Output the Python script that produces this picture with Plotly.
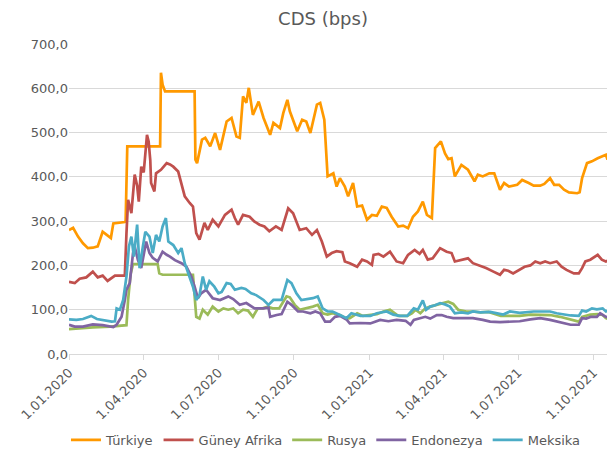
import plotly.graph_objects as go

# ---------------- data ----------------
tr_dates = ["2020-01-01","2020-01-06","2020-01-12","2020-01-18","2020-01-24","2020-01-30","2020-02-05","2020-02-11",
            "2020-02-16","2020-02-21","2020-02-24","2020-03-09","2020-03-10","2020-03-11","2020-03-12","2020-04-21",
            "2020-04-22","2020-04-24","2020-04-27","2020-06-02","2020-06-03","2020-06-05","2020-06-11","2020-06-15",
            "2020-06-21","2020-06-27","2020-07-03","2020-07-11","2020-07-17","2020-07-23","2020-07-27","2020-07-31",
            "2020-08-04","2020-08-07","2020-08-12","2020-08-19","2020-08-25","2020-09-02","2020-09-06","2020-09-14",
            "2020-09-18","2020-09-23","2020-09-26","2020-10-05","2020-10-11","2020-10-16","2020-10-21","2020-10-29",
            "2020-11-02","2020-11-07","2020-11-11","2020-11-18","2020-11-22","2020-11-26","2020-12-02","2020-12-06",
            "2020-12-12","2020-12-17","2020-12-23","2020-12-29","2021-01-04","2021-01-10","2021-01-16","2021-01-22",
            "2021-01-28","2021-02-05","2021-02-11","2021-02-17","2021-02-23","2021-03-01","2021-03-07","2021-03-12",
            "2021-03-18","2021-03-22","2021-03-29","2021-04-03","2021-04-07","2021-04-11","2021-04-15","2021-04-23",
            "2021-05-01","2021-05-09","2021-05-13","2021-05-19","2021-05-27","2021-06-02","2021-06-09","2021-06-14",
            "2021-06-20","2021-06-30","2021-07-06","2021-07-14","2021-07-20","2021-07-28","2021-08-02","2021-08-09",
            "2021-08-14","2021-08-20","2021-08-26","2021-09-01","2021-09-11","2021-09-14","2021-09-17","2021-09-23",
            "2021-09-29","2021-10-06","2021-10-12","2021-10-16","2021-10-18","2021-10-21"]
tr_vals = [280,285,265,250,239,240,243,276,269,262,295,298,300,431,469,469,
           635,608,593,593,439,431,484,488,469,499,461,525,533,491,488,582,
           567,601,540,570,533,495,522,510,544,574,548,503,529,525,499,563,
           567,529,401,408,378,397,378,356,386,333,335,303,314,312,333,330,
           310,288,290,284,310,322,344,314,307,465,480,453,440,442,401,427,
           416,390,405,401,408,408,371,386,378,382,393,386,380,380,384,397,
           382,382,371,365,363,365,397,431,435,442,446,450,439,465]

za_dates = ["2020-01-01","2020-01-08","2020-01-14","2020-01-22","2020-01-30","2020-02-05","2020-02-11","2020-02-17",
            "2020-02-26","2020-03-09","2020-03-11","2020-03-13","2020-03-17","2020-03-21","2020-03-24","2020-03-26",
            "2020-03-29","2020-04-01","2020-04-05","2020-04-07","2020-04-09","2020-04-10","2020-04-14","2020-04-16",
            "2020-04-22","2020-04-29","2020-05-03","2020-05-07","2020-05-13","2020-05-17","2020-05-21","2020-05-27",
            "2020-05-31","2020-06-04","2020-06-08","2020-06-14","2020-06-18","2020-06-24","2020-07-01","2020-07-09",
            "2020-07-17","2020-07-21","2020-07-25","2020-07-31","2020-08-08","2020-08-14","2020-08-20","2020-08-26",
            "2020-09-01","2020-09-09","2020-09-16","2020-09-24","2020-09-30","2020-10-08","2020-10-16","2020-10-23",
            "2020-10-29","2020-11-04","2020-11-10","2020-11-16","2020-11-22","2020-11-29","2020-12-02","2020-12-08",
            "2020-12-17","2020-12-23","2020-12-29","2021-01-04","2021-01-06","2021-01-12","2021-01-18","2021-01-26",
            "2021-02-03","2021-02-11","2021-02-17","2021-02-25","2021-03-03","2021-03-07","2021-03-13","2021-03-19",
            "2021-03-28","2021-04-05","2021-04-11","2021-04-15","2021-04-23","2021-05-01","2021-05-07","2021-05-13",
            "2021-05-23","2021-06-01","2021-06-09","2021-06-14","2021-06-19","2021-06-25","2021-07-03","2021-07-09",
            "2021-07-16","2021-07-22","2021-07-28","2021-08-03","2021-08-09","2021-08-17","2021-08-23","2021-08-29",
            "2021-09-07","2021-09-13","2021-09-17","2021-09-21","2021-09-27","2021-10-06","2021-10-11","2021-10-16",
            "2021-10-21"]
za_vals = [163,160,170,173,186,173,177,165,177,177,273,348,318,405,380,344,
           423,410,495,480,438,386,367,408,416,431,428,423,412,386,356,341,
           333,273,258,296,280,303,288,314,326,307,292,314,310,299,292,288,
           277,288,280,329,318,280,284,269,280,254,220,228,232,230,209,205,
           197,213,209,201,224,226,220,231,209,205,224,235,226,235,213,216,
           239,231,228,209,213,216,205,201,194,186,179,190,188,182,190,197,
           200,209,205,209,205,209,197,190,182,182,194,209,213,224,213,209,
           213]

ru_dates = ["2020-01-01","2020-01-14","2020-01-30","2020-02-20","2020-02-26","2020-03-11","2020-03-13","2020-03-16",
            "2020-03-19","2020-04-18","2020-04-20","2020-04-24","2020-05-31","2020-06-04","2020-06-08","2020-06-12",
            "2020-06-18","2020-06-24","2020-07-01","2020-07-07","2020-07-13","2020-07-19","2020-07-25","2020-07-31",
            "2020-08-06","2020-08-12","2020-08-18","2020-08-24","2020-08-30","2020-09-05","2020-09-13","2020-09-22",
            "2020-09-26","2020-10-02","2020-10-08","2020-10-16","2020-10-24","2020-10-30","2020-11-05","2020-11-11",
            "2020-11-17","2020-11-26","2020-12-04","2020-12-08","2020-12-17","2020-12-24","2021-01-02","2021-01-10",
            "2021-01-18","2021-01-26","2021-02-05","2021-02-16","2021-02-22","2021-02-26","2021-03-04","2021-03-10",
            "2021-03-16","2021-03-24","2021-03-30","2021-04-07","2021-04-13","2021-04-19","2021-04-29","2021-05-07",
            "2021-05-16","2021-05-26","2021-06-10","2021-07-03","2021-07-16","2021-07-28","2021-08-09","2021-08-21",
            "2021-09-03","2021-09-13","2021-09-17","2021-09-27","2021-10-06","2021-10-12","2021-10-16","2021-10-21"]
ru_vals = [56,58,60,62,63,65,122,180,203,203,182,179,179,84,80,100,
           89,107,96,103,100,103,92,100,98,84,103,103,107,103,103,130,
           128,111,100,103,107,111,92,89,92,88,80,81,92,86,88,90,
           96,100,86,86,92,100,92,103,107,111,115,118,113,100,96,96,
           94,95,86,86,89,89,88,84,77,73,84,89,90,88,81,77]

id_dates = ["2020-01-01","2020-01-08","2020-01-18","2020-01-30","2020-02-11","2020-02-24","2020-02-28","2020-03-05",
            "2020-03-09","2020-03-11","2020-03-15","2020-03-19","2020-03-21","2020-03-25","2020-03-29","2020-04-04",
            "2020-04-08","2020-04-12","2020-04-18","2020-04-24","2020-04-29","2020-05-03","2020-05-09","2020-05-17",
            "2020-05-23","2020-05-29","2020-06-02","2020-06-06","2020-06-10","2020-06-16","2020-06-24","2020-07-03",
            "2020-07-13","2020-07-19","2020-07-27","2020-08-04","2020-08-14","2020-08-25","2020-08-31","2020-09-02",
            "2020-09-10","2020-09-16","2020-09-23","2020-09-28","2020-10-06","2020-10-12","2020-10-21","2020-10-27",
            "2020-11-02","2020-11-08","2020-11-14","2020-11-20","2020-11-26","2020-12-04","2020-12-08","2020-12-21",
            "2021-01-02","2021-01-14","2021-01-24","2021-02-03","2021-02-14","2021-02-20","2021-02-24","2021-03-04",
            "2021-03-10","2021-03-16","2021-03-24","2021-03-30","2021-04-05","2021-04-13","2021-04-25","2021-05-07",
            "2021-05-19","2021-05-28","2021-06-09","2021-06-21","2021-07-03","2021-07-16","2021-07-28","2021-08-09",
            "2021-08-21","2021-09-03","2021-09-13","2021-09-17","2021-09-22","2021-09-28","2021-10-05","2021-10-09",
            "2021-10-16","2021-10-21"]
id_vals = [66,62,62,67,65,61,66,84,122,145,160,228,243,212,194,254,
           228,217,209,231,224,220,212,205,197,175,152,126,137,145,126,122,
           130,124,111,115,103,103,105,84,88,90,118,111,96,96,92,96,
           92,73,73,84,86,78,69,70,69,77,74,77,75,66,77,81,
           84,80,88,88,84,81,81,81,77,73,72,73,74,78,81,77,
           72,66,66,81,80,84,84,92,84,81]

mx_dates = ["2020-01-01","2020-01-10","2020-01-18","2020-01-28","2020-02-04","2020-02-11","2020-02-22","2020-02-26",
            "2020-02-28","2020-03-03","2020-03-07","2020-03-11","2020-03-14","2020-03-17","2020-03-20","2020-03-24",
            "2020-03-27","2020-03-31","2020-04-03","2020-04-08","2020-04-12","2020-04-16","2020-04-20","2020-04-24",
            "2020-04-28","2020-05-01","2020-05-07","2020-05-13","2020-05-17","2020-05-21","2020-05-27","2020-05-31",
            "2020-06-04","2020-06-08","2020-06-12","2020-06-16","2020-06-20","2020-06-26","2020-07-01","2020-07-05",
            "2020-07-11","2020-07-16","2020-07-21","2020-07-29","2020-08-03","2020-08-10","2020-08-16","2020-08-25",
            "2020-08-31","2020-09-06","2020-09-16","2020-09-23","2020-09-28","2020-10-04","2020-10-10","2020-10-16",
            "2020-10-24","2020-10-30","2020-11-05","2020-11-11","2020-11-17","2020-11-26","2020-12-04","2020-12-10",
            "2020-12-21","2021-01-02","2021-01-10","2021-01-22","2021-01-30","2021-02-07","2021-02-16","2021-02-24",
            "2021-03-01","2021-03-07","2021-03-11","2021-03-16","2021-03-22","2021-03-28","2021-04-03","2021-04-09",
            "2021-04-15","2021-04-23","2021-05-01","2021-05-07","2021-05-16","2021-05-28","2021-06-13","2021-06-21",
            "2021-07-03","2021-07-20","2021-08-09","2021-08-17","2021-08-25","2021-09-03","2021-09-13","2021-09-17",
            "2021-09-22","2021-09-29","2021-10-05","2021-10-12","2021-10-16","2021-10-21"]
mx_vals = [78,77,79,86,79,77,73,74,103,100,122,175,243,265,220,292,
           194,243,276,265,228,269,254,288,307,254,246,228,239,205,175,152,
           122,133,175,145,164,152,137,140,160,158,145,149,147,137,133,122,
           111,122,122,167,160,137,122,124,126,130,103,96,96,88,81,92,
           86,86,92,96,89,86,86,103,100,121,100,107,110,115,112,107,
           92,94,92,96,94,95,89,96,93,96,96,92,89,87,86,98,
           96,103,101,103,96,100]

series_names = ["Türkiye", "Güney Afrika", "Rusya", "Endonezya", "Meksika"]
series_colors = ["#FF9900", "#C0504D", "#9BBB59", "#8064A2", "#4BACC6"]

tick_dates = ["2020-01-01", "2020-04-01", "2020-07-01", "2020-10-01",
              "2021-01-01", "2021-04-01", "2021-07-01", "2021-10-01"]
tick_labels = ["1.01.2020", "1.04.2020", "1.07.2020", "1.10.2020",
               "1.01.2021", "1.04.2021", "1.07.2021", "1.10.2021"]

x_start = "2020-01-01"
x_end = "2021-10-21"

# ---------------- figure ----------------
all_dates = [tr_dates, za_dates, ru_dates, id_dates, mx_dates]
all_vals = [tr_vals, za_vals, ru_vals, id_vals, mx_vals]

fig = go.Figure()
for name, color, xs, ys in zip(series_names, series_colors, all_dates, all_vals):
    fig.add_trace(go.Scatter(x=xs, y=ys, name=name, mode="lines",
                             line=dict(color=color, width=2.7)))

txt = "#595959"
fig.update_layout(
    width=607, height=453,
    paper_bgcolor="white", plot_bgcolor="white",
    margin=dict(l=61, r=5, t=36, b=107, autoexpand=False),
    separators=", ",
    font=dict(family="DejaVu Sans", size=13, color=txt),
    title=dict(text="CDS (bps)", x=0.519, xref="container", xanchor="center",
               y=0.99, yref="container", yanchor="top", pad=dict(t=0, b=0),
               font=dict(family="DejaVu Sans", size=18, color=txt)),
    showlegend=True,
    legend=dict(orientation="h", x=0.475, xanchor="center", y=-0.277, yanchor="middle",
                font=dict(size=13, color=txt), itemwidth=30, tracegroupgap=0,
                bgcolor="rgba(0,0,0,0)"),
)
fig.update_xaxes(
    type="date", range=[x_start, x_end], automargin=False,
    tickmode="array", tickvals=tick_dates, ticktext=tick_labels,
    tickangle=-45, showgrid=False, zeroline=False,
    showline=True, linecolor="#D9D9D9", linewidth=1,
    ticks="outside", ticklen=5, tickcolor="#D9D9D9",
    tickfont=dict(size=13, color=txt),
)
fig.update_yaxes(
    range=[0, 700], dtick=100, tickformat=".1f", automargin=False,
    showgrid=True, gridcolor="#D9D9D9", gridwidth=1,
    zeroline=False, showline=False, ticks="",
    tickfont=dict(size=13, color=txt),
)

fig.write_html("out.html")
